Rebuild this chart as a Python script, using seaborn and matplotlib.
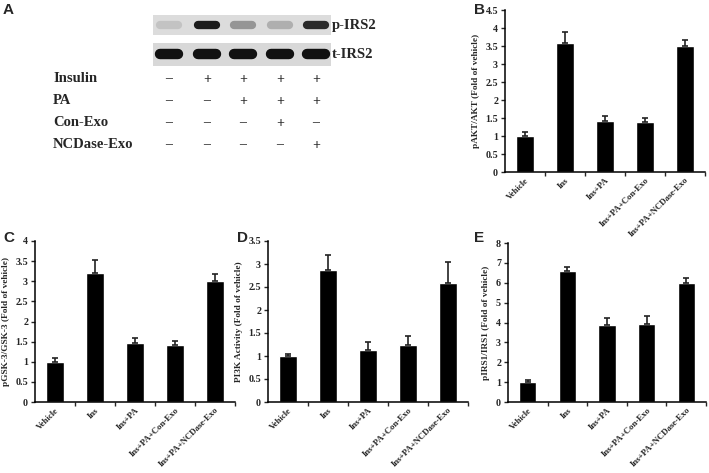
import seaborn as sns
import pandas as pd
import numpy as np
import matplotlib.pyplot as plt

groups = ["Vehicle", "Ins", "Ins+PA", "Ins+PA+Con-Exo", "Ins+PA+NCDase-Exo"]

# panel B
akt = [1.0, 3.58, 1.42, 1.40, 3.50]
akt_err = [0.10, 0.32, 0.13, 0.10, 0.18]
# panel C
gsk = [1.0, 3.20, 1.47, 1.42, 3.00]
gsk_err = [0.10, 0.32, 0.13, 0.10, 0.17]
# panel D
pi3k = [1.0, 2.87, 1.12, 1.24, 2.58]
pi3k_err = [0.04, 0.33, 0.19, 0.20, 0.47]
# panel E
irs1 = [1.0, 6.60, 3.88, 3.92, 5.98]
irs1_err = [0.12, 0.18, 0.34, 0.41, 0.24]

# panel A blot
p_irs2 = [0.12, 0.95, 0.35, 0.22, 0.88]
t_irs2 = [1.0, 1.0, 1.0, 1.0, 1.0]
treat_rows = ["Insulin", "PA", "Con-Exo", "NCDase-Exo"]
insulin = ["\u2013", "+", "+", "+", "+"]
pa = ["\u2013", "\u2013", "+", "+", "+"]
con_exo = ["\u2013", "\u2013", "\u2013", "+", "\u2013"]
ncd_exo = ["\u2013", "\u2013", "\u2013", "\u2013", "+"]

sns.set_style("white")
plt.rcParams["font.family"] = ["Liberation Serif", "DejaVu Serif"]
plt.rcParams["font.weight"] = "bold"

W, H = 709, 473
fig = plt.figure(figsize=(W / 100, H / 100), dpi=100)


def box(x0, y0, x1, y1):
    # pixel box -> figure fraction
    return [x0 / W, 1 - y1 / H, (x1 - x0) / W, (y1 - y0) / H]


def bar_panel(rect, values, errs, ymax, ystep, ylabel):
    ax = fig.add_axes(rect)
    df = pd.DataFrame({"group": groups, "value": values})
    sns.barplot(data=df, x="group", y="value", color="black", saturation=1,
                width=0.43, errorbar=None, ax=ax)
    ax.errorbar(range(len(groups)), values, yerr=[np.zeros(len(errs)), errs],
                fmt="none", ecolor="#222222", elinewidth=1.2, capsize=2.2,
                capthick=1.2)
    ax.set_xlim(-0.5, 4.5)
    ax.set_ylim(0, ymax)
    ticks = np.arange(0, ymax + 1e-9, ystep)
    ax.set_yticks(ticks)
    ax.set_yticklabels([f"{t:g}" for t in ticks], fontsize=7.2, fontweight="bold")
    ax.set_xticks(range(len(groups)))
    ax.set_xticklabels(groups, rotation=45, ha="right", rotation_mode="anchor",
                       fontsize=6.3, fontweight="bold")
    ax.set_xticks(np.arange(0.5, 5, 1), minor=True)
    ax.tick_params(axis="x", which="major", length=0, pad=3)
    ax.tick_params(axis="x", which="minor", length=3, width=1, direction="out",
                   bottom=True)
    ax.tick_params(axis="y", length=3, width=1, direction="out", left=True, pad=2)
    ax.set_xlabel("")
    ax.set_ylabel(ylabel, fontsize=6.7, fontweight="bold", labelpad=4)
    for s in ["top", "right"]:
        ax.spines[s].set_visible(False)
    for s in ["left", "bottom"]:
        ax.spines[s].set_linewidth(1.1)
        ax.spines[s].set_color("black")
    return ax


bar_panel(box(505, 10, 705, 172), akt, akt_err, 4.5, 0.5, "pAKT/AKT (Fold of vehicle)")
bar_panel(box(35, 241, 235, 402), gsk, gsk_err, 4, 0.5, "pGSK-3/GSK-3 (Fold of vehicle)")
bar_panel(box(268, 241, 468, 402), pi3k, pi3k_err, 3.5, 0.5, "PI3K Activity (Fold of vehicle)")
bar_panel(box(508, 243, 706, 402), irs1, irs1_err, 8, 1, "pIRS1/IRS1 (Fold of vehicle)")

# panel A: blot and treatment table, drawn in pixel coordinates
axa = fig.add_axes(box(0, 0, 480, 230))
axa.set_xlim(0, 480)
axa.set_ylim(230, 0)
axa.axis("off")
lanes = [169, 207, 243, 280, 316]
axa.add_patch(plt.Rectangle((153, 15), 178, 20, color="#dcdcdc", lw=0))
axa.add_patch(plt.Rectangle((153, 43), 178, 23, color="#d8d8d8", lw=0))
for x, a in zip(lanes, p_irs2):
    axa.plot([x - 9, x + 9], [25, 25], color="#111111", alpha=a, lw=6,
             solid_capstyle="round")
for x, a in zip(lanes, t_irs2):
    axa.plot([x - 9, x + 9], [54.5, 54.5], color="#111111", alpha=a, lw=7.5,
             solid_capstyle="round")
axa.text(332, 25, "p-IRS2", fontsize=10.5, fontweight="bold", va="center")
axa.text(332, 55, "t-IRS2", fontsize=10.5, fontweight="bold", va="center")
row_y = [78, 100, 122, 144]
for y, name, signs in zip(row_y, treat_rows, [insulin, pa, con_exo, ncd_exo]):
    axa.text(53, y, name, fontsize=10.5, fontweight="bold", va="center")
    for x, s in zip(lanes, signs):
        axa.text(x, y + 1, s, fontsize=10, fontweight="bold", va="center",
                 ha="center")

for lab, x, y in [("A", 3, 10), ("B", 474, 10), ("C", 3, 238), ("D", 237, 238),
                  ("E", 474, 238)]:
    fig.text(x / W, 1 - y / H, lab, fontsize=11, fontweight="bold",
             family="Liberation Sans", va="center")

fig.savefig("out.png", dpi=100)
